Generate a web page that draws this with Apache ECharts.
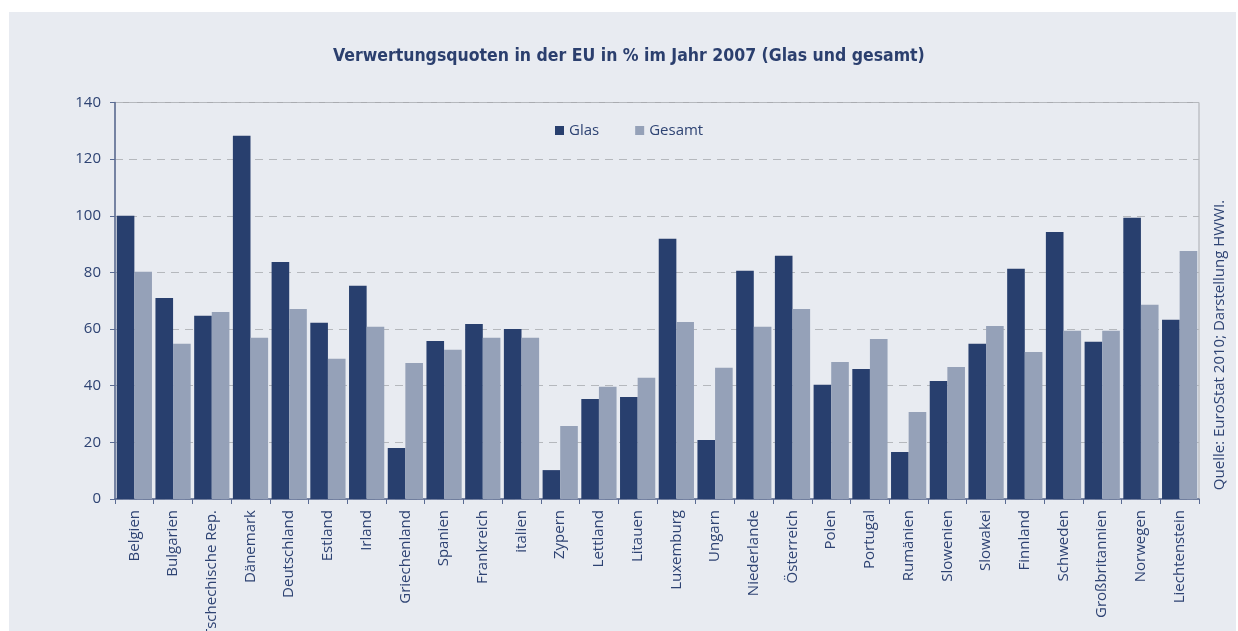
<!DOCTYPE html>
<html>
<head>
<meta charset="utf-8">
<script src="https://cdn.jsdelivr.net/npm/echarts@6/dist/echarts.min.js"></script>
<style>html,body{margin:0;padding:0;background:#fff;}#c{width:1238px;height:631px;}</style>
</head>
<body>
<div id="c"></div>
<script>
const categories = ["Belgien","Bulgarien","Tschechische Rep.","Dänemark","Deutschland","Estland","Irland","Griechenland","Spanien","Frankreich","italien","Zypern","Lettland","Litauen","Luxemburg","Ungarn","Niederlande","Österreich","Polen","Portugal","Rumänien","Slowenien","Slowakei","Finnland","Schweden","Großbritannien","Norwegen","Liechtenstein"];
const glas = [100,71,64.7,128.3,83.7,62.2,75.3,18,55.8,61.8,60,10.2,35.3,36,91.9,20.8,80.6,85.9,40.3,45.9,16.6,41.7,54.8,81.3,94.3,55.5,99.3,63.3];
const gesamt = [80.2,54.8,66,56.9,67.1,49.5,60.8,48,52.7,56.9,56.9,25.8,39.6,42.8,62.5,46.3,60.8,67.1,48.4,56.5,30.7,46.6,61.1,51.9,59.4,59.4,68.6,87.6];
const yTicks = [0,20,40,60,80,100,120,140];
const titleText = "Verwertungsquoten in der EU in % im Jahr 2007 (Glas und gesamt)";
const sourceText = "Quelle: EuroStat 2010; Darstellung HWWI.";

const txt = '#2e4373';
const font = '"Open Sans", "Noto Sans", sans-serif';
const chart = echarts.init(document.getElementById('c'), null, {renderer:'canvas'});
chart.setOption({
  animation: false,
  backgroundColor: '#ffffff',
  graphic: [
    {type:'rect', z:-10, shape:{x:9, y:12, width:1227, height:619}, style:{fill:'#e8ebf1'}},
    {type:'text', x:1220, y:345, rotation:Math.PI/2,
     style:{text:sourceText, fill:txt, font:'15px "Open Sans", sans-serif', align:'center', verticalAlign:'middle'}}
  ],
  title: {
    text: titleText, left: 328, top: 42,
    textStyle: {color:'#2b3f6e', fontSize:17.5, fontWeight:'bold', fontFamily:'"Liberation Sans Narrow", "DejaVu Sans Condensed", sans-serif'}
  },
  legend: {
    left: 550, top: 118, itemWidth: 9, itemHeight: 9, itemGap: 36, icon: 'rect',
    textStyle: {color: txt, fontSize: 15, fontFamily: font},
    data: ['Glas','Gesamt']
  },
  grid: {left:115, right:39, top:102.5, bottom:132, outerBoundsMode:'none', containLabel:false,
         show:true, borderColor:'#a9abb0', borderWidth:1, backgroundColor:'transparent'},
  xAxis: {
    type:'category', data: categories,
    axisLine:{lineStyle:{color:'#5a6b93', width:1.5}},
    axisTick:{show:true, length:5, lineStyle:{color:'#5a6b93'}},
    axisLabel:{rotate:90, color:txt, fontSize:15, fontFamily:font, margin:11, interval:0}
  },
  yAxis: {
    type:'value', min:0, max:140, interval:20,
    axisLine:{show:true, lineStyle:{color:'#5a6b93', width:1.5}},
    axisTick:{show:true, length:5, lineStyle:{color:'#5a6b93'}},
    axisLabel:{color:txt, fontSize:15, fontFamily:font, margin:14,
      formatter: v => yTicks.includes(v) ? String(v) : ''},
    splitLine:{show:true, lineStyle:{color:'#b5b8bd', type:[8,6], width:1}}
  },
  series: [
    {name:'Glas', type:'bar', data: glas, barGap:'0%', barCategoryGap:'9%', itemStyle:{color:'#283f6e'}},
    {name:'Gesamt', type:'bar', data: gesamt, itemStyle:{color:'#95a1b8'}}
  ]
});
</script>
</body>
</html>
